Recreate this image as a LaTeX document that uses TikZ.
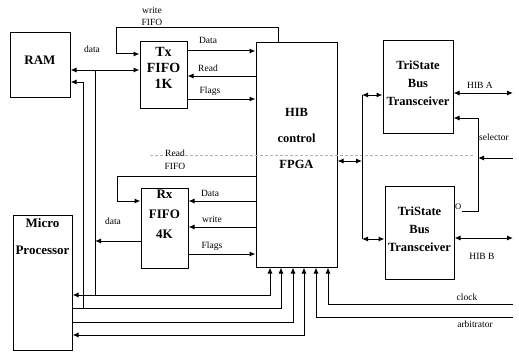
\documentclass[tikz,border=0pt]{standalone}
\usepackage{fontspec}
\setmainfont{Liberation Serif}
\usetikzlibrary{arrows.meta,positioning,calc}
\tikzset{
  wire/.style      = {line width=1pt},
  sig/.style       = {line width=1pt, -{Latex[length=6pt,width=5pt]}},
  bisig/.style     = {line width=1pt, {Latex[length=6pt,width=5pt]}-{Latex[length=6pt,width=5pt]}},
  block/.style     = {draw, line width=1pt, inner sep=0pt},
  blocktext/.style = {align=center, inner sep=0pt},
  lbl/.style       = {font=\fontsize{9.5}{12}\selectfont, inner sep=1pt},
  guide/.style     = {densely dashed, line width=0.4pt, gray!60},
}

\begin{document}
\begin{tikzpicture}[x=1pt,y=-1pt]
  \useasboundingbox (0,0) rectangle (519,353);

  % ---- blocks ------------------------------------------------------------
  \node[block, minimum width=60pt, minimum height=64pt]  (ram)   at (40,65)      {};
  \node[block, minimum width=47pt, minimum height=66pt]  (tx)    at (163.5,75)   {};
  \node[block, minimum width=47pt, minimum height=80pt]  (rx)    at (164.5,228)  {};
  \node[block, minimum width=59pt, minimum height=135pt] (micro) at (42.5,282.5) {};
  \node[block, minimum width=81pt, minimum height=224pt] (fpga)  at (296.5,155)  {};
  \node[block, minimum width=70pt, minimum height=92pt]  (tsa)   at (418,87)     {};
  \node[block, minimum width=69pt, minimum height=93pt]  (tsb)   at (419.5,232.5){};

  \node[blocktext, font=\fontsize{13}{16}\selectfont\bfseries] (ramtext) at ([yshift=5pt]ram.center) {RAM};
  \node[blocktext, font=\fontsize{14}{16}\selectfont\bfseries] (txtext) at ([yshift=7pt]tx.center) {Tx\\FIFO\\1K};
  \node[blocktext, font=\fontsize{13}{20}\selectfont\bfseries] (rxtext) at ([yshift=14pt]rx.center) {Rx\\FIFO\\4K};
  \node[blocktext, font=\fontsize{13}{27}\selectfont\bfseries] (microtext) at ([yshift=46pt]micro.center) {Micro\\Processor};
  \node[blocktext, font=\fontsize{12.5}{26}\selectfont\bfseries] (fpgatext) at ([yshift=17pt]fpga.center) {HIB\\control\\FPGA};
  \node[blocktext, font=\fontsize{12.5}{18}\selectfont\bfseries] (tsatext) at ([yshift=4pt]tsa.center) {TriState\\Bus\\Transceiver};
  \node[blocktext, font=\fontsize{12.5}{18}\selectfont\bfseries] (tsbtext) at ([yshift=3pt]tsb.center) {TriState\\Bus\\Transceiver};

  % faint scan line across the middle
  \draw[guide] (150,155) -- (475,155);

  % ---- Tx FIFO side ------------------------------------------------------
  \draw[sig] (fpga.north -| 278,0) -- (278,28) -| (116,54) -- (tx.west |- 0,54);
  \node[lbl, align=center, font=\fontsize{9.5}{12}\selectfont] (wflbl) at (152,16) {write\\FIFO};
  \draw[sig] (tx.east |- 0,51) -- (fpga.west |- 0,51);
  \draw[sig] (fpga.west |- 0,76) -- (tx.east |- 0,76);
  \draw[sig] (tx.east |- 0,99) -- (fpga.west |- 0,99);
  \node[lbl] (txdata)  at (208,40) {Data};
  \node[lbl] (txread)  at (208,68) {Read};
  \node[lbl] (txflags) at (210,91) {Flags};

  % ---- RAM / processor data paths ----------------------------------------
  \draw[bisig] (ram.east |- 0,70) -- (tx.west |- 0,70);
  \node[lbl] (ramdata) at (92,49) {data};
  \draw[sig] (83,308) -- (83,82) -- (ram.east |- 0,82);
  \draw[wire] (95,70) -- (95,295);
  \draw[sig] (rx.west |- 0,241) -- (95,241);
  \node[lbl] (rxdata) at (113,221) {data};

  % ---- Rx FIFO side ------------------------------------------------------
  \draw[sig] (fpga.west |- 0,176) -| (117,201) -- (rx.west |- 0,201);
  \node[lbl, align=center, font=\fontsize{9.5}{13}\selectfont] (rflbl) at (175,160) {Read\\FIFO};
  \draw[sig] (fpga.west |- 0,201) -- (rx.east |- 0,201);
  \draw[sig] (fpga.west |- 0,227) -- (rx.east |- 0,227);
  \draw[sig] (rx.east |- 0,254) -- (fpga.west |- 0,254);
  \node[lbl] (rxdat)   at (210,193) {Data};
  \node[lbl] (rxwrite) at (212,219) {write};
  \node[lbl] (rxflags) at (212,246) {Flags};

  % ---- processor to FPGA -------------------------------------------------
  \draw[bisig] (micro.east |- 0,295) -| (fpga.south -| 270,0);
  \draw[sig]   (micro.east |- 0,308) -| (fpga.south -| 281,0);
  \draw[sig]   (micro.east |- 0,322) -| (fpga.south -| 293,0);
  \draw[bisig] (micro.east |- 0,335) -| (fpga.south -| 304,0);

  % ---- clock and arbitrator ----------------------------------------------
  \coordinate (clk) at (513,304);
  \coordinate (arb) at (513,317);
  \draw[sig] (clk) -| (fpga.south -| 328,0);
  \draw[sig] (arb) -| (fpga.south -| 316,0);
  \node[lbl] (clklbl) at (467,297) {clock};
  \node[lbl] (arblbl) at (475,324) {arbitrator};

  % ---- transceivers ------------------------------------------------------
  \coordinate (bustop) at (362,95);
  \coordinate (busbot) at (362,239);
  \draw[bisig] (fpga.east |- 0,161) -- (bustop |- 0,161);
  \draw[wire] (bustop) -- (busbot);
  \draw[bisig] (bustop) -- (tsa.west |- bustop);
  \draw[bisig] (busbot) -- (tsb.west |- busbot);

  \coordinate (hiba) at (513,93);
  \coordinate (hibb) at (513,238);
  \draw[bisig] (tsa.east |- hiba) -- (hiba);
  \draw[bisig] (tsb.east |- hibb) -- (hibb);
  \node[lbl] (hibalbl) at (480,85) {HIB A};
  \node[lbl] (hibblbl) at (482,256) {HIB B};

  % ---- selector ----------------------------------------------------------
  \coordinate (sel) at (513,158);
  \draw[sig] (sel) -- (478,158);
  \node[lbl, anchor=west, inner sep=0.5pt, font=\fontsize{8.5}{10}\selectfont] (inv) at (tsb.east |- 0,207) {O};
  \draw[sig] (inv.east |- 0,211) -| (478,118) -- (tsa.east |- 0,118);
  \node[lbl] (sellbl) at (494,137) {selector};
\end{tikzpicture}
\end{document}
